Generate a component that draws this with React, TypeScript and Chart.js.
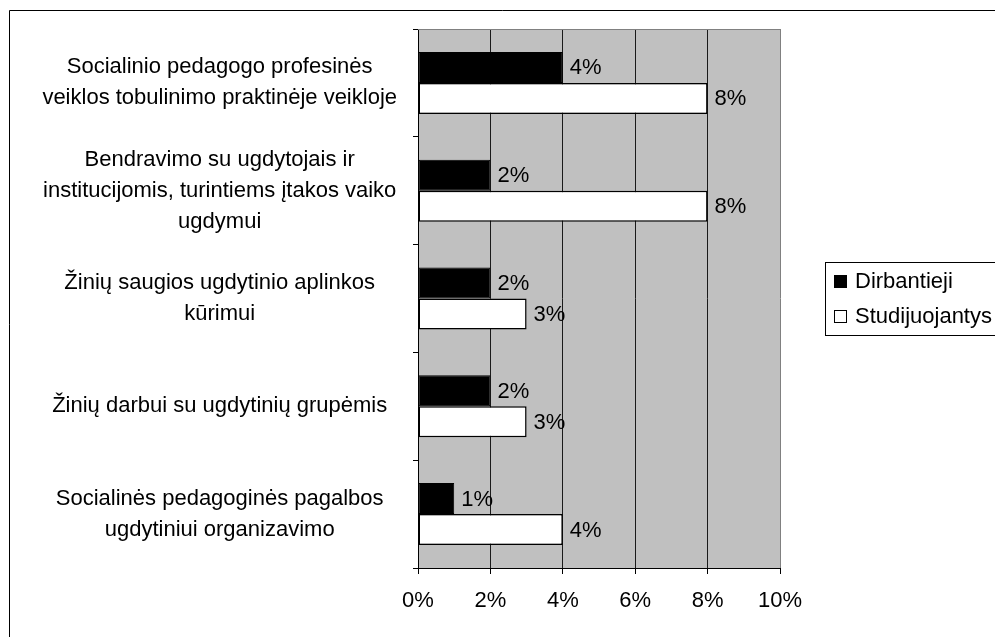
import React, { useEffect, useRef } from 'react';
import { Chart, registerables } from 'chart.js';

Chart.register(...registerables);

const categories: string[][] = [
  ['Socialinio pedagogo profesinės', 'veiklos tobulinimo praktinėje veikloje'],
  ['Bendravimo su ugdytojais ir', 'institucijomis, turintiems įtakos vaiko', 'ugdymui'],
  ['Žinių saugios ugdytinio aplinkos', 'kūrimui'],
  ['Žinių darbui su ugdytinių grupėmis'],
  ['Socialinės pedagoginės pagalbos', 'ugdytiniui organizavimo'],
];
const seriesNames = ['Dirbantieji', 'Studijuojantys'];
const dirbantieji = [4, 2, 2, 2, 1];
const studijuojantys = [8, 8, 3, 3, 4];
const xMin = 0;
const xMax = 10;
const xStep = 2;

const FONT = "'Liberation Sans', Arial, sans-serif";

export default function App() {
  const ref = useRef<HTMLCanvasElement | null>(null);

  useEffect(() => {
    if (!ref.current) return;

    const framePlugin = {
      id: 'frame',
      beforeDraw(chart: any) {
        const { ctx, chartArea } = chart;
        ctx.save();
        ctx.fillStyle = '#C0C0C0';
        ctx.fillRect(chartArea.left, chartArea.top, chartArea.right - chartArea.left, chartArea.bottom - chartArea.top);
        // outer border
        ctx.strokeStyle = '#000';
        ctx.lineWidth = 1;
        ctx.beginPath();
        ctx.moveTo(9.5, 640);
        ctx.lineTo(9.5, 10.5);
        ctx.lineTo(1000, 10.5);
        ctx.stroke();
        ctx.restore();
      },
      afterDraw(chart: any) {
        const { ctx, chartArea } = chart;
        ctx.save();
        ctx.strokeStyle = '#808080';
        ctx.lineWidth = 1;
        ctx.beginPath();
        ctx.moveTo(chartArea.left, Math.round(chartArea.top) + 0.5);
        ctx.lineTo(chartArea.right, Math.round(chartArea.top) + 0.5);
        ctx.stroke();
        // legend
        const bx = 825.5, by = 262.5;
        ctx.strokeStyle = '#000';
        ctx.fillStyle = '#fff';
        ctx.fillRect(bx, by, 200, 73);
        ctx.strokeRect(bx, by, 200, 73);
        ctx.font = `22px ${FONT}`;
        ctx.textBaseline = 'middle';
        ctx.textAlign = 'left';
        chart.data.datasets.forEach((ds: any, i: number) => {
          const cy = 282 + i * 35;
          ctx.fillStyle = ds.backgroundColor;
          ctx.fillRect(834.5, cy - 6.5, 12, 12);
          ctx.strokeStyle = '#000';
          ctx.strokeRect(834.5, cy - 6.5, 12, 12);
          ctx.fillStyle = '#000';
          ctx.fillText(ds.label, 855, cy);
        });
        ctx.restore();
      },
      afterDatasetsDraw(chart: any) {
        const { ctx } = chart;
        ctx.save();
        ctx.font = `22px ${FONT}`;
        ctx.fillStyle = '#000';
        ctx.textBaseline = 'middle';
        ctx.textAlign = 'left';
        chart.data.datasets.forEach((ds: any, di: number) => {
          const meta = chart.getDatasetMeta(di);
          meta.data.forEach((el: any, i: number) => {
            ctx.fillText(ds.data[i] + '%', el.x + 7, el.y + 1);
          });
        });
        ctx.restore();
      },
    };

    const chart = new Chart(ref.current, {
      type: 'bar',
      data: {
        labels: categories,
        datasets: [
          {
            label: seriesNames[0],
            data: dirbantieji,
            backgroundColor: '#000000',
            borderColor: '#000000',
            borderWidth: 1,
            borderSkipped: false,
            barPercentage: 1,
            categoryPercentage: 0.575,
          },
          {
            label: seriesNames[1],
            data: studijuojantys,
            backgroundColor: '#FFFFFF',
            borderColor: '#000000',
            borderWidth: 1.5,
            borderSkipped: false,
            barPercentage: 1,
            categoryPercentage: 0.575,
          },
        ],
      },
      options: {
        indexAxis: 'y',
        responsive: false,
        animation: false,
        layout: { padding: { left: 10, top: 29, right: 215, bottom: 0 } },
        plugins: {
          legend: { display: false },
          tooltip: { enabled: false },
        },
        scales: {
          x: {
            type: 'linear',
            min: xMin,
            max: xMax,
            ticks: {
              stepSize: xStep,
              callback: (v: any) => v + '%',
              color: '#000',
              font: { family: FONT, size: 22 },
              padding: 14,
            },
            grid: {
              color: (c: any) => (c.index === 5 ? '#808080' : '#1a1a1a'),
              tickColor: '#000',
              tickLength: 6,
              lineWidth: 1,
            },
            border: { color: '#000', width: 1 },
            afterFit: (s: any) => {
              s.height = 69;
            },
          },
          y: {
            type: 'category',
            ticks: {
              crossAlign: 'center',
              color: '#000',
              font: { family: FONT, size: 22, lineHeight: 1.41 },
              padding: 16,
            },
            grid: {
              drawOnChartArea: false,
              color: '#000',
              tickLength: 5,
              offset: true,
            },
            border: { color: '#000', width: 1 },
            afterFit: (s: any) => {
              s.width = 408;
              s.paddingTop = 0;
              s.paddingBottom = 0;
            },
          },
        },
      } as any,
      plugins: [framePlugin],
    });

    return () => chart.destroy();
  }, []);

  return (
    <div style={{ position: 'fixed', left: 0, top: 0, width: 995, height: 637, overflow: 'hidden', background: '#fff' }}>
      <canvas ref={ref} width={995} height={637} style={{ display: 'block', width: 995, height: 637 }} />
    </div>
  );
}
